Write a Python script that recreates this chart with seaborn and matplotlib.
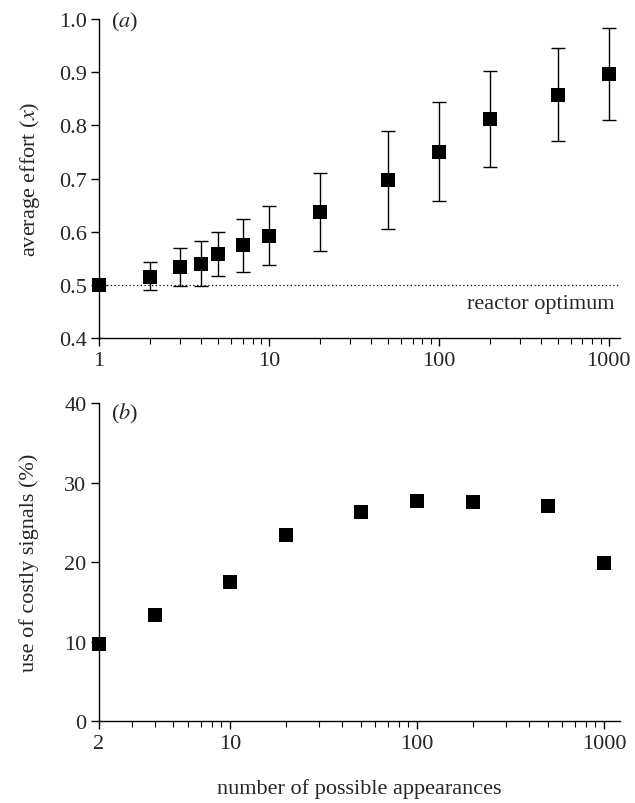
import numpy as np
import pandas as pd
import matplotlib
matplotlib.use("Agg")
import matplotlib.pyplot as plt
from matplotlib.ticker import FixedLocator, NullFormatter, LogLocator
import seaborn as sns

sns.set_theme(style="ticks")
plt.rcParams['font.family'] = ['Liberation Serif', 'DejaVu Serif']
plt.rcParams['mathtext.fontset'] = 'stix'

# panel (a) data: average effort vs number of possible appearances
appearances_a = [1, 2, 3, 4, 5, 7, 10, 20, 50, 100, 200, 500, 1000]
effort_mean = [0.500, 0.516, 0.534, 0.540, 0.558, 0.575, 0.592, 0.637, 0.698, 0.750, 0.813, 0.857, 0.896]
effort_low = [0.500, 0.491, 0.498, 0.499, 0.518, 0.524, 0.538, 0.564, 0.606, 0.658, 0.722, 0.770, 0.810]
effort_high = [0.500, 0.543, 0.570, 0.582, 0.599, 0.624, 0.648, 0.711, 0.790, 0.844, 0.902, 0.946, 0.983]

# panel (b) data: use of costly signals
appearances_b = [2, 4, 10, 20, 50, 100, 200, 500, 1000]
costly_pct = [9.7, 13.3, 17.5, 23.4, 26.3, 27.7, 27.6, 27.0, 19.9]

reactor_opt = 0.5

df_a = pd.DataFrame({"n": appearances_a, "mean": effort_mean, "low": effort_low, "high": effort_high})
df_b = pd.DataFrame({"n": appearances_b, "pct": costly_pct})

fig = plt.figure(figsize=(6.35, 8.04), dpi=100)
ax1 = fig.add_axes([0.156, 0.578, 0.820, 0.397])
ax2 = fig.add_axes([0.156, 0.1016, 0.820, 0.396])

fs = 16

# (a)
ax1.axhline(reactor_opt, color="black", lw=0.9, ls=(0, (1, 2)), zorder=1)
ax1.errorbar(df_a["n"], df_a["mean"],
             yerr=[df_a["mean"] - df_a["low"], df_a["high"] - df_a["mean"]],
             fmt="none", ecolor="black", elinewidth=1.0, capsize=5, capthick=1.0, zorder=2)
sns.scatterplot(data=df_a, x="n", y="mean", marker="s", s=100, color="black",
                edgecolor="black", linewidth=0, zorder=3, ax=ax1)
ax1.set_xscale("log")
ax1.set_xlim(1, 1160)
ax1.set_ylim(0.4, 1.0)
ax1.set_yticks(np.arange(0.4, 1.01, 0.1))
ax1.set_yticklabels([f"{v:.1f}" for v in np.arange(0.4, 1.01, 0.1)])
ax1.xaxis.set_major_locator(FixedLocator([1, 10, 100, 1000]))
ax1.set_xticklabels(["1", "10", "100", "1000"])
ax1.xaxis.set_minor_locator(LogLocator(base=10, subs=np.arange(2, 10)))
ax1.xaxis.set_minor_formatter(NullFormatter())
ax1.set_xlabel("")
ax1.set_ylabel("average effort ($x$)", fontsize=fs, labelpad=12)
ax1.text(0.022, 1.03, "($a$)", transform=ax1.transAxes, fontsize=fs, va="top", ha="left")
ax1.text(1080, 0.483, "reactor optimum", fontsize=fs, va="top", ha="right")

# (b)
sns.scatterplot(data=df_b, x="n", y="pct", marker="s", s=100, color="black",
                edgecolor="black", linewidth=0, zorder=3, ax=ax2)
ax2.set_xscale("log")
ax2.set_xlim(2, 1216)
ax2.set_ylim(0, 40)
ax2.set_yticks([0, 10, 20, 30, 40])
ax2.xaxis.set_major_locator(FixedLocator([2, 10, 100, 1000]))
ax2.set_xticklabels(["2", "10", "100", "1000"])
ax2.xaxis.set_minor_locator(LogLocator(base=10, subs=np.arange(2, 10)))
ax2.xaxis.set_minor_formatter(NullFormatter())
ax2.set_xlabel("number of possible appearances", fontsize=fs, labelpad=18)
ax2.set_ylabel("use of costly signals (%)", fontsize=fs, labelpad=18)
ax2.text(0.022, 1.005, "($b$)", transform=ax2.transAxes, fontsize=fs, va="top", ha="left")

for ax in (ax1, ax2):
    sns.despine(ax=ax)
    for sp in ("left", "bottom"):
        ax.spines[sp].set_linewidth(1.0)
        ax.spines[sp].set_color("black")
    ax.tick_params(axis="both", which="major", direction="out", length=6, width=1.0,
                   labelsize=fs, color="black", pad=3)
    ax.tick_params(axis="x", which="minor", direction="out", length=4, width=0.8, color="black")
    ax.grid(False)
    ax.set_facecolor("white")
    for c in ax.collections:
        c.set_clip_on(False)

fig.savefig("out.png", dpi=100, facecolor="white")
